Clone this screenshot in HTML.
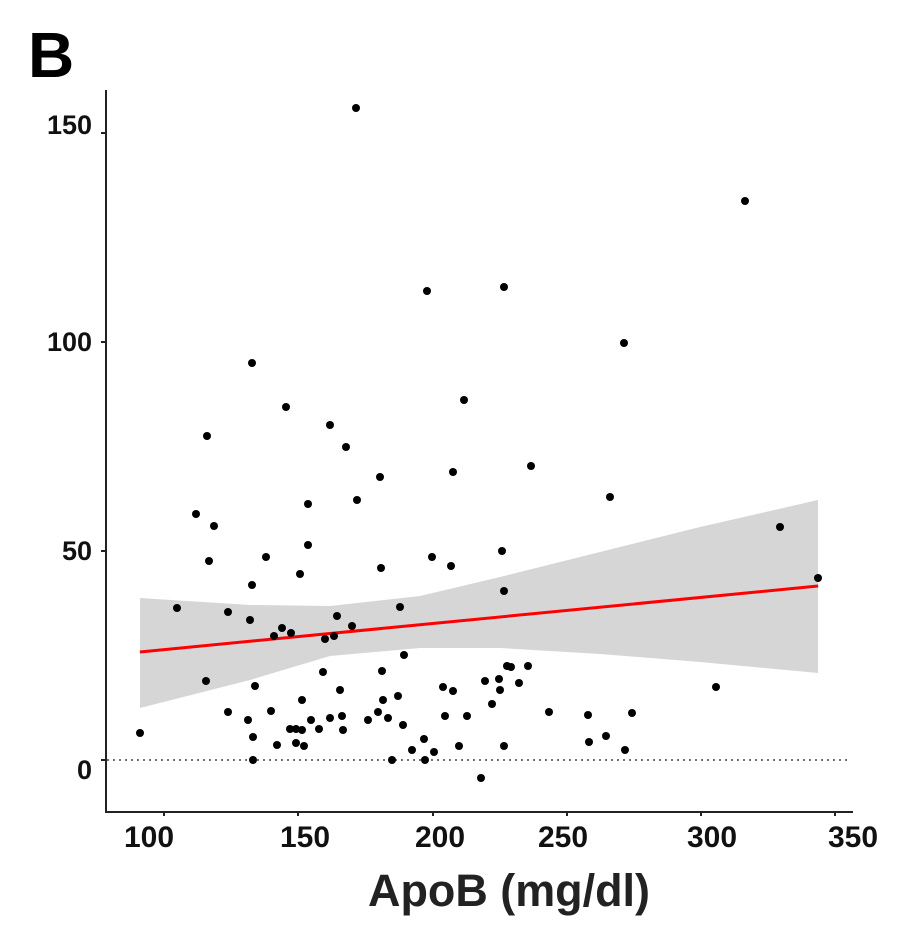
<!DOCTYPE html>
<html><head><meta charset="utf-8"><style>html,body{margin:0;padding:0;background:#fff}</style></head>
<body>
<svg width="898" height="929" viewBox="0 0 898 929" xmlns="http://www.w3.org/2000/svg" font-family="Liberation Sans, sans-serif" font-weight="bold">
<rect width="898" height="929" fill="#fff"/>
<text x="28" y="77" font-size="64" fill="#000">B</text>
<polygon fill="#d6d6d6" points="140,598 250,605 330,606 420,596 500,577 600,552 700,527 818,500 818,673 700,662 600,654 500,648 420,648 330,656 250,680 140,708"/>
<line x1="140" y1="652" x2="818" y2="586" stroke="#f00" stroke-width="3"/>
<line x1="107" y1="760" x2="850" y2="760" stroke="#444" stroke-width="1.5" stroke-dasharray="2,4"/>
<g fill="#000">
<circle cx="140" cy="733" r="4"/><circle cx="177" cy="608" r="4"/><circle cx="196" cy="514" r="4"/><circle cx="207" cy="436" r="4"/><circle cx="209" cy="561" r="4"/><circle cx="214" cy="526" r="4"/><circle cx="206" cy="681" r="4"/><circle cx="228" cy="612" r="4"/><circle cx="228" cy="712" r="4"/><circle cx="250" cy="620" r="4"/><circle cx="248" cy="720" r="4"/><circle cx="252" cy="363" r="4"/><circle cx="252" cy="585" r="4"/><circle cx="255" cy="686" r="4"/><circle cx="253" cy="737" r="4"/><circle cx="253" cy="760" r="4"/><circle cx="266" cy="557" r="4"/><circle cx="271" cy="711" r="4"/><circle cx="274" cy="636" r="4"/><circle cx="277" cy="745" r="4"/><circle cx="282" cy="628" r="4"/><circle cx="286" cy="407" r="4"/><circle cx="290" cy="729" r="4"/><circle cx="291" cy="633" r="4"/><circle cx="296" cy="729" r="4"/><circle cx="296" cy="743" r="4"/><circle cx="300" cy="574" r="4"/><circle cx="302" cy="700" r="4"/><circle cx="302" cy="730" r="4"/><circle cx="304" cy="746" r="4"/><circle cx="308" cy="504" r="4"/><circle cx="308" cy="545" r="4"/><circle cx="311" cy="720" r="4"/><circle cx="319" cy="729" r="4"/><circle cx="323" cy="672" r="4"/><circle cx="325" cy="639" r="4"/><circle cx="330" cy="425" r="4"/><circle cx="330" cy="718" r="4"/><circle cx="334" cy="636" r="4"/><circle cx="337" cy="616" r="4"/><circle cx="340" cy="690" r="4"/><circle cx="342" cy="716" r="4"/><circle cx="343" cy="730" r="4"/><circle cx="346" cy="447" r="4"/><circle cx="352" cy="626" r="4"/><circle cx="356" cy="108" r="4"/><circle cx="357" cy="500" r="4"/><circle cx="368" cy="720" r="4"/><circle cx="378" cy="712" r="4"/><circle cx="380" cy="477" r="4"/><circle cx="381" cy="568" r="4"/><circle cx="382" cy="671" r="4"/><circle cx="383" cy="700" r="4"/><circle cx="388" cy="718" r="4"/><circle cx="392" cy="760" r="4"/><circle cx="398" cy="696" r="4"/><circle cx="400" cy="607" r="4"/><circle cx="403" cy="725" r="4"/><circle cx="404" cy="655" r="4"/><circle cx="412" cy="750" r="4"/><circle cx="424" cy="739" r="4"/><circle cx="425" cy="760" r="4"/><circle cx="427" cy="291" r="4"/><circle cx="432" cy="557" r="4"/><circle cx="434" cy="752" r="4"/><circle cx="443" cy="687" r="4"/><circle cx="445" cy="716" r="4"/><circle cx="451" cy="566" r="4"/><circle cx="453" cy="472" r="4"/><circle cx="453" cy="691" r="4"/><circle cx="459" cy="746" r="4"/><circle cx="464" cy="400" r="4"/><circle cx="467" cy="716" r="4"/><circle cx="481" cy="778" r="4"/><circle cx="485" cy="681" r="4"/><circle cx="492" cy="704" r="4"/><circle cx="499" cy="679" r="4"/><circle cx="500" cy="690" r="4"/><circle cx="502" cy="551" r="4"/><circle cx="504" cy="287" r="4"/><circle cx="504" cy="591" r="4"/><circle cx="504" cy="746" r="4"/><circle cx="507" cy="666" r="4"/><circle cx="511" cy="667" r="4"/><circle cx="519" cy="683" r="4"/><circle cx="528" cy="666" r="4"/><circle cx="531" cy="466" r="4"/><circle cx="549" cy="712" r="4"/><circle cx="588" cy="715" r="4"/><circle cx="589" cy="742" r="4"/><circle cx="606" cy="736" r="4"/><circle cx="610" cy="497" r="4"/><circle cx="624" cy="343" r="4"/><circle cx="625" cy="750" r="4"/><circle cx="632" cy="713" r="4"/><circle cx="716" cy="687" r="4"/><circle cx="745" cy="201" r="4"/><circle cx="780" cy="527" r="4"/><circle cx="818" cy="578" r="4"/>
</g>
<g stroke="#222" stroke-width="2" fill="none">
<polyline points="106,90 106,812 853,812"/>
<line x1="101" y1="133" x2="106" y2="133"/><line x1="101" y1="342" x2="106" y2="342"/><line x1="101" y1="551" x2="106" y2="551"/><line x1="101" y1="760" x2="106" y2="760"/>
<line x1="164" y1="812" x2="164" y2="816"/><line x1="298" y1="812" x2="298" y2="816"/><line x1="433" y1="812" x2="433" y2="816"/><line x1="567" y1="812" x2="567" y2="816"/><line x1="701" y1="812" x2="701" y2="816"/><line x1="835" y1="812" x2="835" y2="816"/>
</g>
<g font-size="27" fill="#111" text-anchor="end">
<text x="92" y="134">150</text><text x="92" y="351">100</text><text x="92" y="560">50</text><text x="92" y="779">0</text>
</g>
<g font-size="30" fill="#111" text-anchor="middle">
<text x="149" y="847">100</text><text x="305" y="847">150</text><text x="440" y="847">200</text><text x="563" y="847">250</text><text x="712" y="847">300</text><text x="853" y="847">350</text>
</g>
<text x="509" y="906" font-size="45" fill="#222" text-anchor="middle" textLength="282" lengthAdjust="spacingAndGlyphs">ApoB (mg/dl)</text>
</svg>
</body></html>
